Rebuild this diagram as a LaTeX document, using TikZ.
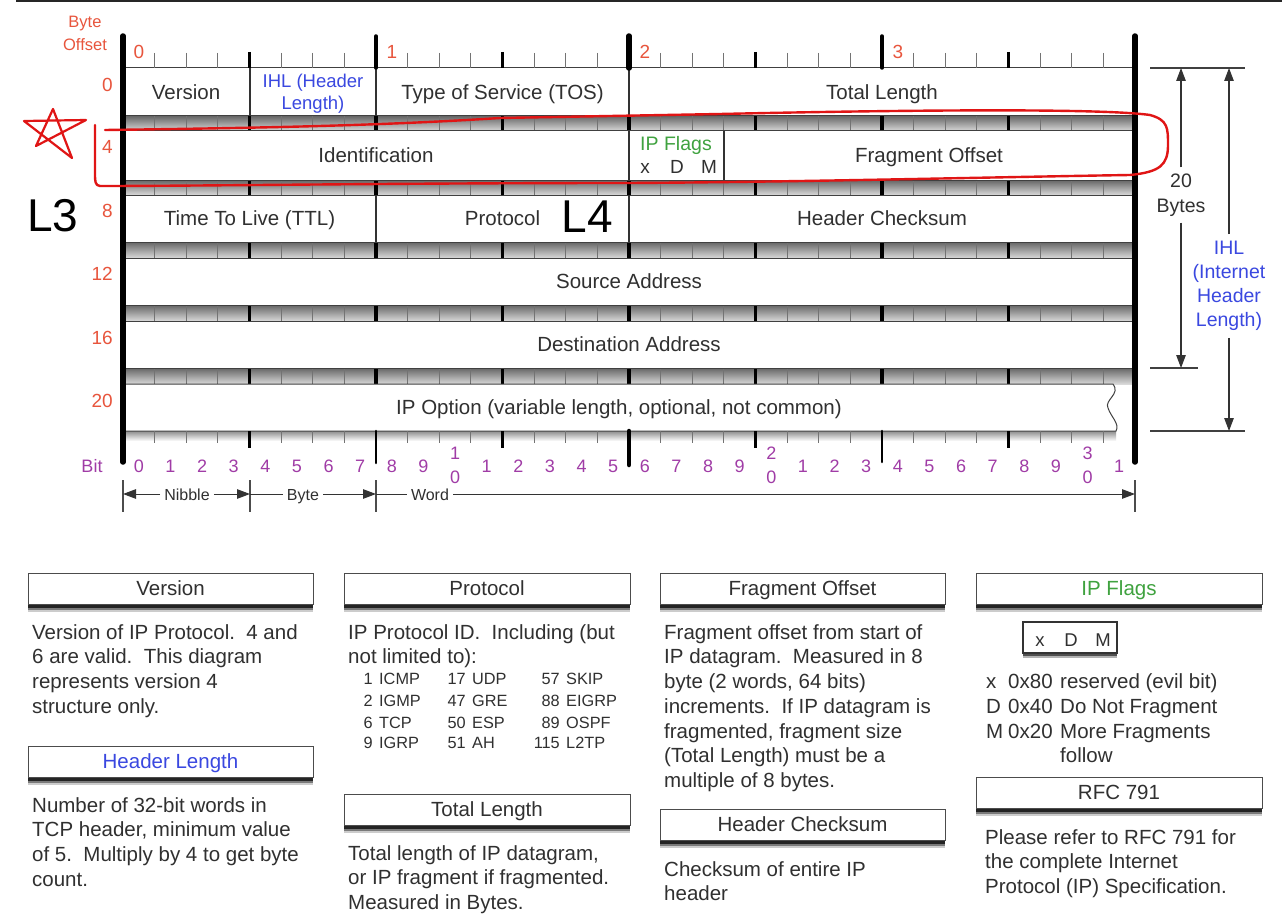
\documentclass[tikz,border=0pt]{standalone}
\usepackage{fontspec}
\setmainfont{Liberation Sans}
\usetikzlibrary{arrows.meta,shadows}
\definecolor{txt}{HTML}{303030}
\definecolor{ored}{HTML}{E8553D}
\definecolor{iblue}{HTML}{3A48E0}
\definecolor{fgreen}{HTML}{3FA23F}
\definecolor{bpurple}{HTML}{A03CA6}
\definecolor{markred}{HTML}{E01515}
\newcommand{\fsz}[2]{\fontsize{#1}{#2}\selectfont}
\begin{document}
\begin{tikzpicture}[x=1pt,y=-1pt,
  lbl/.style={inner sep=0pt, text=txt, font=\fsz{20.5}{24}, text height=14.7pt, text depth=0pt},
  rednum/.style={inner sep=0pt, text=ored, font=\fsz{19}{20}, text height=13.6pt, text depth=0pt},
  offlbl/.style={inner sep=0pt, text=ored, font=\fsz{16.5}{18}, text height=11.8pt, text depth=0pt},
  bitnum/.style={inner sep=0pt, text=bpurple, font=\fsz{18}{18}, text height=12.9pt, text depth=0pt},
  rowbox/.style={fill=white, draw=black!75, line width=1pt},
  divider/.style={draw=black!80, line width=1.3pt},
  band/.style={top color=black!60, bottom color=black!15},
  thintick/.style={draw=black!55, line width=0.8pt},
  nibtick/.style={draw=black, line width=2.2pt},
  bytetick/.style={draw=black, line width=3.2pt},
  heavy/.style={draw=black, line width=5.5pt, line cap=round},
  para/.style={inner sep=0pt, anchor=north west, align=left, text=txt, font=\fsz{20.5}{24.7}},
  tbl/.style={inner sep=0pt, text=txt, font=\fsz{16.3}{18}},
  hdr/.style={draw=black!70, line width=1pt, fill=white, minimum height=31pt, inner sep=0pt,
    text=txt, font=\fsz{20.5}{24}, text height=14.7pt, text depth=0pt,
    drop shadow={shadow xshift=0pt, shadow yshift=-8pt, opacity=0.2, fill=black},
    drop shadow={shadow xshift=0pt, shadow yshift=-6pt, opacity=0.4, fill=black},
    drop shadow={shadow xshift=0pt, shadow yshift=-3.5pt, opacity=0.7, fill=black}},
  dimlbl/.style={inner xsep=4pt, inner ysep=0pt, text=txt, font=\fsz{16}{18}, text height=11.5pt, text depth=0pt},
  dimline/.style={draw=black!80, line width=1pt},
  dimarrow/.style={draw=black!80, line width=1pt, -{Triangle[length=13pt,width=9.5pt]}},
  refline/.style={draw=black!75, line width=1.3pt},
  annot/.style={draw=markred, line width=2.4pt, line cap=round, line join=round}
]
\useasboundingbox (0,0) rectangle (1282,923);
\fill[white] (0,0) rectangle (1282,923);
\draw[black!85, line width=2pt] (16,1) -- (1282,1);

% ---------- gray bands between rows ----------
\foreach \ta/\tb in {116/131,180/195,242/258,305/321,368/384}{
  \shade[band] (123,\ta) rectangle (1135,\tb);
  \foreach \i in {1,...,31} \draw[thintick] ({123+\i*31.625},\ta) -- ({123+\i*31.625},\tb);
  \foreach \i in {4,12,20,28} \draw[nibtick] ({123+\i*31.625},\ta) -- ({123+\i*31.625},\tb);
  \foreach \i in {8,24} \draw[bytetick] ({123+\i*31.625},\ta) -- ({123+\i*31.625},\tb);
  \draw[draw=black, line width=4.5pt] (629,\ta) -- (629,\tb);
}

% ---------- rows ----------
\foreach \ta/\tb in {68/116,131/180,195/242,258/305,321/368}{
  \draw[rowbox] (123,\ta) rectangle (1135,\tb);
}
\shade[top color=black!45, bottom color=white] (125,431) rectangle (1116,441);
\draw[rowbox] (123,384) -- (1113,384) .. controls (1121,394) and (1104,400) .. (1108,408)
  .. controls (1111,417) and (1120,424) .. (1116,431) -- (123,431) -- cycle;

% dividers
\foreach \x in {250,376,629} \draw[divider] (\x,68) -- (\x,116);
\foreach \x in {629,724} \draw[divider] (\x,131) -- (\x,180);
\foreach \x in {376,629} \draw[divider] (\x,195) -- (\x,242);

% ---------- top ruler ----------
\foreach \i in {1,...,31} \draw[thintick] ({123+\i*31.625},53) -- ({123+\i*31.625},68);
\foreach \i in {4,12,20,28} \draw[nibtick] ({123+\i*31.625},52) -- ({123+\i*31.625},68);
\draw[draw=black, line width=3.5pt, line cap=round] (376,36) -- (376,68);
\draw[draw=black, line width=3.5pt, line cap=round] (882,36) -- (882,68);
\draw[heavy] (629,36) -- (629,68);

% ---------- bottom ruler ----------
\foreach \i in {1,...,31} \draw[thintick] ({123+\i*31.625},431) -- ({123+\i*31.625},443);
\foreach \i in {4,12,20,28} \draw[nibtick] ({123+\i*31.625},431) -- ({123+\i*31.625},448);
\draw[draw=black, line width=2.6pt, line cap=round] (376,431) -- (376,463);
\draw[draw=black, line width=2.6pt, line cap=round] (882,431) -- (882,462);
\draw[draw=black, line width=4.5pt, line cap=round] (629,431) -- (629,465);

% heavy frame lines
\draw[heavy] (123,36) -- (123,462);
\draw[heavy] (1135,36) -- (1135,462);

% ---------- byte numbers / offsets ----------
\node[rednum] (b0) at (139,52) {0};
\node[rednum] (b1) at (392,52) {1};
\node[rednum] (b2) at (645,52) {2};
\node[rednum] (b3) at (898,52) {3};
\node[offlbl] (bo1) at (85,22) {Byte};
\node[offlbl] (bo2) at (85,45) {Offset};
\foreach \v/\yy in {0/85,4/147,8/211,12/274,16/338,20/401}{
  \node[rednum, anchor=east] (o\v) at (113,\yy) {\v};
}

% ---------- field labels ----------
\node[lbl] (fVer) at (186,92) {Version};
\node[inner sep=0pt, text=iblue, font=\fsz{18.5}{20}, text height=13.3pt, text depth=0pt] (fIHLa) at (313,81) {IHL (Header};
\node[inner sep=0pt, text=iblue, font=\fsz{18.5}{20}, text height=13.3pt, text depth=0pt] (fIHLb) at (313,103) {Length)};
\node[lbl] (fTOS) at (502.5,92) {Type of Service (TOS)};
\node[lbl] (fTL) at (882,92) {Total Length};
\node[lbl] (fId) at (376,155) {Identification};
\node[inner sep=0pt, text=fgreen, font=\fsz{19.5}{20}, text height=14pt, text depth=0pt] (fFl) at (676,143) {IP Flags};
\node[inner sep=0pt, text=txt, font=\fsz{19}{20}, text height=13.6pt, text depth=0pt] (fx) at (645,167) {x};
\node[inner sep=0pt, text=txt, font=\fsz{19}{20}, text height=13.6pt, text depth=0pt] (fD) at (677,167) {D};
\node[inner sep=0pt, text=txt, font=\fsz{19}{20}, text height=13.6pt, text depth=0pt] (fM) at (709,167) {M};
\node[lbl] (fFO) at (929,155) {Fragment Offset};
\node[lbl] (fTTL) at (249.5,218) {Time To Live (TTL)};
\node[lbl] (fPr) at (502.5,218) {Protocol};
\node[lbl] (fHC) at (882,218) {Header Checksum};
\node[lbl] (fSA) at (629,281) {Source Address};
\node[lbl] (fDA) at (629,344) {Destination Address};
\node[lbl] (fOpt) at (619,407) {IP Option (variable length, optional, not common)};

% ---------- bit numbers ----------
\node[bitnum] (bitl) at (92,466) {Bit};
\foreach \i in {0,...,31}{
  \pgfmathtruncatemacro\dg{mod(\i,10)}
  \pgfmathtruncatemacro\tn{div(\i,10)}
  \ifnum\dg=0
    \ifnum\i>0
      \node[bitnum] (bt\i) at ({138.8+\i*31.625},453) {\tn};
      \node[bitnum] (bu\i) at ({138.8+\i*31.625},477) {0};
    \else
      \node[bitnum] (bn\i) at ({138.8+\i*31.625},466) {\dg};
    \fi
  \else
    \node[bitnum] (bn\i) at ({138.8+\i*31.625},466) {\dg};
  \fi
}

% ---------- nibble / byte / word ----------
\foreach \x in {123,250,376,1135} \draw[dimline, draw=black!70, line width=1.2pt] (\x,480) -- (\x,512);
\coordinate (d0) at (123,494);
\coordinate (d1) at (250,494);
\coordinate (d2) at (376,494);
\coordinate (d3) at (1135,494);
\node[dimlbl] (nib) at (187,495) {Nibble};
\node[dimlbl] (byt) at (303,495) {Byte};
\node[dimlbl] (wrd) at (430,495) {Word};
\draw[dimarrow] (nib.west |- d0) -- (d0);
\draw[dimarrow] (nib.east |- d0) -- (d1);
\draw[dimline] (d1) -- (byt.west |- d1);
\draw[dimarrow] (byt.east |- d1) -- (d2);
\draw[dimline] (d2) -- (wrd.west |- d2);
\draw[dimarrow] (wrd.east |- d2) -- (d3);

% ---------- right side length arrows ----------
\draw[refline] (1150,68) -- (1245,68);
\draw[refline] (1150,368) -- (1198,368);
\draw[refline] (1150,431) -- (1245,431);
\coordinate (tA) at (1181,68);
\coordinate (bA) at (1181,368);
\coordinate (tB) at (1229,68);
\coordinate (bB) at (1229,431);
\node[inner xsep=0pt, inner ysep=6pt, align=center, text=txt, font=\fsz{19.5}{25}] (twenty) at (1181,195) {20\\Bytes};
\node[inner xsep=0pt, inner ysep=7pt, align=center, text=iblue, font=\fsz{19.5}{24}] (ihl) at (1229,286) {IHL\\(Internet\\Header\\Length)};
\draw[dimarrow, line width=1.2pt] (twenty.north) -- (tA);
\draw[dimarrow, line width=1.2pt] (twenty.south) -- (bA);
\draw[dimarrow, line width=1.2pt] (ihl.north) -- (tB);
\draw[dimarrow, line width=1.2pt] (ihl.south) -- (bB);

% ---------- hand annotations ----------
\draw[annot] (105,130) .. controls (250,128) and (376,126) .. (500,118) -- (720,114)
  .. controls (900,110) and (1100,108) .. (1150,115)
  .. controls (1168,120) and (1168,128) .. (1168,145)
  .. controls (1168,165) and (1160,172) .. (1130,175)
  .. controls (1000,177) and (800,182) .. (629,183)
  .. controls (400,183) and (200,186) .. (100,186)
  .. controls (95,186) and (95,180) .. (95,175) -- (95,125);
\draw[annot, line width=2.2pt] (53,109) -- (36,146) -- (86,120) -- (24,121) -- (72,158) -- cycle;
\node[inner sep=0pt, font=\fsz{46}{50}, text=black, text height=33pt, text depth=0pt] (L3) at (53,215) {L3};
\node[inner sep=0pt, font=\fsz{46}{50}, text=black, text height=33pt, text depth=0pt] (L4) at (587,216) {L4};

% ---------- bottom explanation boxes ----------
\node[hdr, minimum width=285pt] (hVer) at (170.5,588.5) {Version};
\node[para] (pVer) at (32,623) {\rule{0pt}{16pt}Version of IP Protocol.\ \ 4 and\\6 are valid.\ \ This diagram\\represents version 4\\structure only.};
\node[hdr, minimum width=285pt, text=iblue] (hHL) at (170.5,761.5) {Header Length};
\node[para] (pHL) at (32,796) {\rule{0pt}{16pt}Number of 32-bit words in\\TCP header, minimum value\\of 5.\ \ Multiply by 4 to get byte\\count.};

\node[hdr, minimum width=286pt] (hPr) at (487,588.5) {Protocol};
\node[para] (pPr) at (348,623) {\rule{0pt}{16pt}IP Protocol ID.\ \ Including (but\\not limited to):};
\foreach \k/\num/\nam/\xr/\yb in {a1/1/ICMP/373/684, a2/2/IGMP/373/706, a3/6/TCP/373/728, a4/9/IGRP/373/748,
  b1/17/UDP/466/684, b2/47/GRE/466/706, b3/50/ESP/466/728, b4/51/AH/466/748,
  c1/57/SKIP/560/684, c2/88/EIGRP/560/706, c3/89/OSPF/560/728, c4/115/L2TP/560/748}{
  \node[tbl, anchor=base east] (n\k) at (\xr,\yb) {\num};
  \node[tbl, anchor=base west] (m\k) at ({\xr+6},\yb) {\nam};
}
\node[hdr, minimum width=286pt] (hTL) at (487,809.5) {Total Length};
\node[para] (pTL) at (348,844) {\rule{0pt}{16pt}Total length of IP datagram,\\or IP fragment if fragmented.\\Measured in Bytes.};

\node[hdr, minimum width=285pt] (hFO) at (802.5,588.5) {Fragment Offset};
\node[para] (pFO) at (664,623) {\rule{0pt}{16pt}Fragment offset from start of\\IP datagram.\ \ Measured in 8\\byte (2 words, 64 bits)\\increments.\ \ If IP datagram is\\fragmented, fragment size\\(Total Length) must be a\\multiple of 8 bytes.};
\node[hdr, minimum width=285pt] (hHC) at (802.5,824.5) {Header Checksum};
\node[para] (pHC) at (664,860) {\rule{0pt}{16pt}Checksum of entire IP\\header};

\node[hdr, minimum width=286pt, text=fgreen] (hFl) at (1119,588.5) {IP Flags};
\node[draw=black!80, line width=1.2pt, fill=white, minimum width=94pt, minimum height=31pt, inner sep=0pt,
  drop shadow={shadow xshift=0pt, shadow yshift=-5pt, opacity=0.3, fill=black},
  drop shadow={shadow xshift=0pt, shadow yshift=-3pt, opacity=0.55, fill=black}] (flbox) at (1070,637.5) {};
\node[inner sep=0pt, text=txt, font=\fsz{18.5}{20}, text height=13.3pt, text depth=0pt] (flx) at (1040,640) {x};
\node[inner sep=0pt, text=txt, font=\fsz{18.5}{20}, text height=13.3pt, text depth=0pt] (flD) at (1071,640) {D};
\node[inner sep=0pt, text=txt, font=\fsz{18.5}{20}, text height=13.3pt, text depth=0pt] (flM) at (1103,640) {M};
\foreach \k/\lt/\hx/\ds/\yb in {1/x/0x80/reserved (evil bit)/688, 2/D/0x40/Do Not Fragment/713, 3/M/0x20/More Fragments/738}{
  \node[inner sep=0pt, anchor=base west, text=txt, font=\fsz{20.5}{24}] (fl\k) at (986,\yb) {\lt};
  \node[inner sep=0pt, anchor=base west, text=txt, font=\fsz{20.5}{24}] (fh\k) at (1008,\yb) {\hx};
  \node[inner sep=0pt, anchor=base west, text=txt, font=\fsz{20.5}{24}] (fd\k) at (1060,\yb) {\ds};
}
\node[inner sep=0pt, anchor=base west, text=txt, font=\fsz{20.5}{24}] (fd4) at (1060,762) {follow};
\node[hdr, minimum width=286pt] (hRFC) at (1119,792.5) {RFC 791};
\node[para] (pRFC) at (985,828) {\rule{0pt}{16pt}Please refer to RFC 791 for\\the complete Internet\\Protocol (IP) Specification.};
\end{tikzpicture}
\end{document}
